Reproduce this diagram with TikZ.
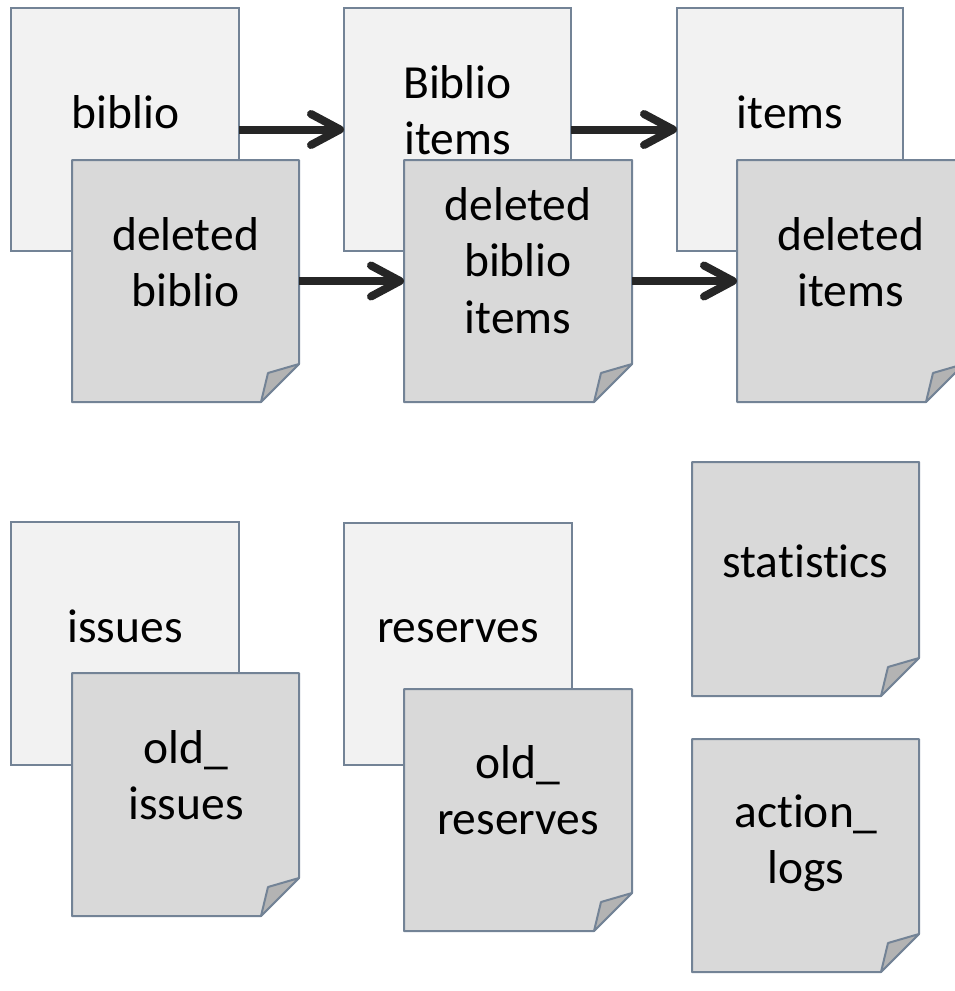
\documentclass[tikz,border=0pt]{standalone}
\usepackage{fontspec}
\setmainfont{Carlito}[Ligatures={NoCommon}]
\usetikzlibrary{arrows.meta}
\definecolor{lightfill}{HTML}{F2F2F2}
\definecolor{darkfill}{HTML}{D9D9D9}
\definecolor{edgecol}{HTML}{738396}
\definecolor{foldfill}{HTML}{B3B3B3}
\definecolor{arrowcol}{HTML}{262626}
\tikzset{
  lightbox/.style={draw=edgecol, fill=lightfill, line width=2pt, inner sep=0pt, outer sep=0pt},
  holder/.style={draw=none, inner sep=0pt, outer sep=0pt},
  darkshape/.style={draw=edgecol, fill=darkfill, line width=2pt, line join=round},
  foldshape/.style={draw=edgecol, fill=foldfill, line width=2pt, line join=round},
  txt/.style={anchor=base, inner sep=0pt, outer sep=0pt, font=\fontsize{47.5}{56.5}\selectfont},
  flow/.style={draw=arrowcol, line width=8pt, -{Straight Barb[length=29pt, width=31pt, round]}}
}
\newcommand\lightdoc[4]{%
  \node[lightbox, minimum width=#3pt, minimum height=#4pt] (#1) at (#2) {};}
\newcommand\darkdoc[4]{%
  \node[holder, minimum width=#3pt, minimum height=#4pt] (#1) at (#2) {};
  \draw[darkshape] (#1.north west) -- (#1.north east) -- ([yshift=38pt]#1.south east)
     -- ([xshift=-38pt]#1.south east) -- (#1.south west) -- cycle;
  \draw[foldshape] ([yshift=38pt]#1.south east) -- ([xshift=-31pt,yshift=29pt]#1.south east)
     -- ([xshift=-38pt]#1.south east) -- cycle;}
\newcommand\two[2]{\begin{tabular}[t]{@{}c@{}}#1\\#2\end{tabular}}
\newcommand\three[3]{\begin{tabular}[t]{@{}c@{}}#1\\#2\\#3\end{tabular}}
\begin{document}
\begin{tikzpicture}[x=1pt, y=-1pt]
\useasboundingbox (0,0) rectangle (955,991);
\clip (0,0) rectangle (955,991);
% top row
\lightdoc{biblio}{125,129.5}{228}{243}
\node[txt] (tbiblio) at (125.5,128) {biblio};
\lightdoc{bibitems}{457.5,129.5}{227}{243}
\node[txt] (tbibitems) at (457.5,98) {\two{Biblio}{items}};
\lightdoc{items}{790,129.5}{226}{243}
\node[txt] (titems) at (790,128) {items};
\darkdoc{delbiblio}{185.5,281}{227}{242}
\node[txt] (tdelbiblio) at (185.5,250) {\two{deleted}{biblio}};
\darkdoc{delbibitems}{518,281}{228}{242}
\node[txt] (tdelbibitems) at (518,220) {\three{deleted}{biblio}{items}};
\darkdoc{delitems}{850.5,281}{227}{242}
\node[txt] (tdelitems) at (850.5,250) {\two{deleted}{items}};
% arrows
\draw[flow] (biblio) -- (bibitems);
\draw[flow] (bibitems) -- (items);
\draw[flow] (delbiblio) -- (delbibitems);
\draw[flow] (delbibitems) -- (delitems);
% bottom rows
\lightdoc{issues}{125,643.5}{228}{243}
\node[txt] (tissues) at (125,642) {issues};
\darkdoc{oldissues}{185.5,794.5}{227}{243}
\node[txt] (toldissues) at (186,763) {\two{old\_}{issues}};
\lightdoc{reserves}{458,644}{228}{242}
\node[txt] (treserves) at (458,642) {reserves};
\darkdoc{oldreserves}{518,810}{228}{242}
\node[txt] (toldreserves) at (518,778) {\two{old\_}{reserves}};
\darkdoc{statistics}{805.5,579}{227}{234}
\node[txt] (tstatistics) at (805.5,577) {statistics};
\darkdoc{actionlogs}{805.5,855.5}{227}{233}
\node[txt] (tactionlogs) at (806,827) {\two{action\_}{logs}};
\end{tikzpicture}
\end{document}
